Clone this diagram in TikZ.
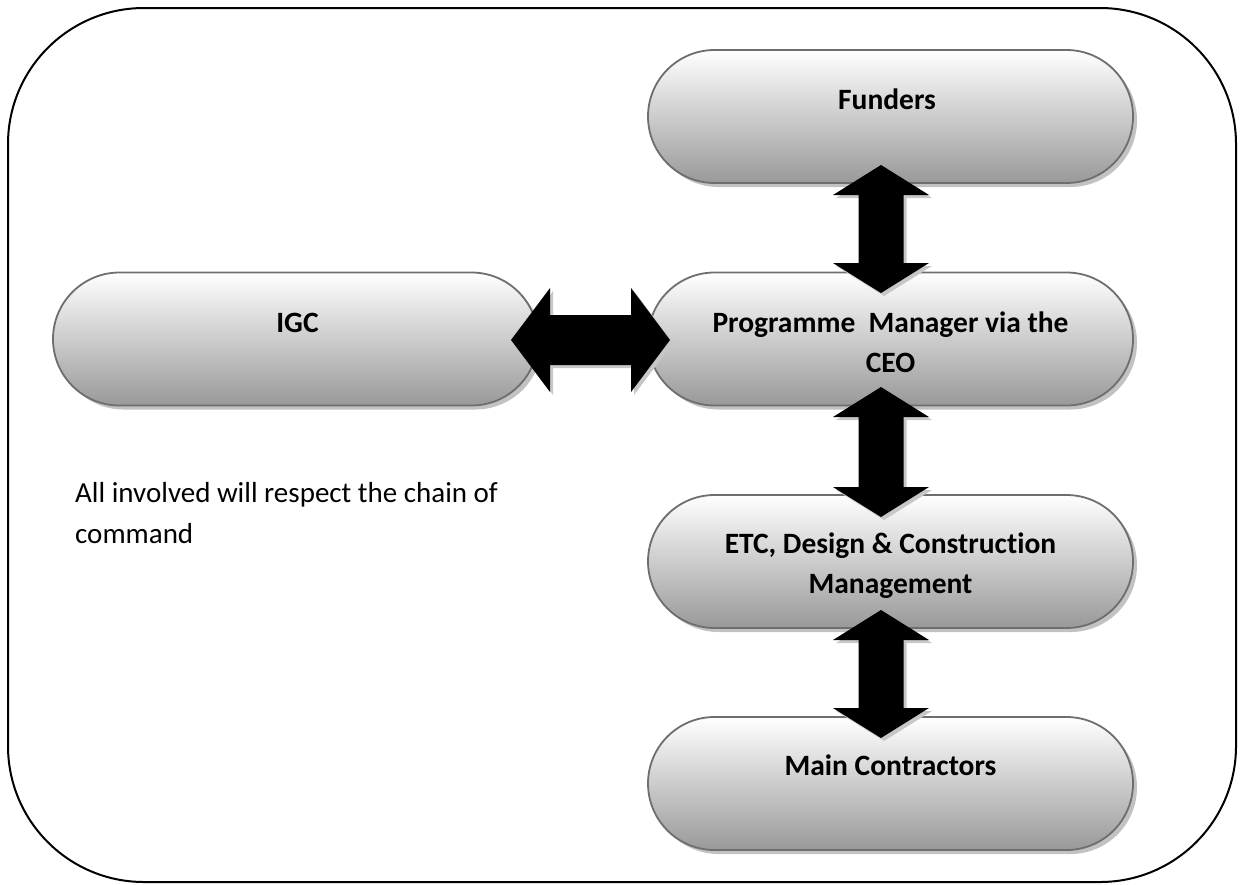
\documentclass[tikz,border=0pt]{standalone}
\usepackage{fontspec}
\setmainfont{Carlito}[Ligatures={NoCommon,NoContextual}]
\usetikzlibrary{shapes.misc,shadows,calc}
\tikzset{
  frame/.style={draw=black, line width=2pt, rounded corners=136pt},
  pill/.style={rounded rectangle, draw=black!57, line width=1.8pt,
    minimum width=485pt, minimum height=133pt, inner sep=0pt,
    top color=white, middle color=black!11, bottom color=black!40,
    drop shadow={shadow xshift=4pt, shadow yshift=-4pt, fill=black!24, opacity=1}},
  boxtext/.style={font=\bfseries\fontsize{29.5}{40}\selectfont, align=center, anchor=base, inner sep=0pt},
  bodytext/.style={font=\fontsize{29}{41}\selectfont, align=left, anchor=base west, inner sep=0pt},
  blockarrow/.style={fill=black,
    drop shadow={shadow xshift=3pt, shadow yshift=-3pt, fill=black!22, opacity=1}},
  vblock/.style={blockarrow, to path={let \p1=(\tikztostart), \p2=(\tikztotarget) in
    (\x1,\y1) -- (\x1+48pt,\y1-30pt) -- (\x1+22.5pt,\y1-30pt) -- (\x1+22.5pt,\y2+30pt)
    -- (\x1+48pt,\y2+30pt) -- (\x2,\y2) -- (\x1-48pt,\y2+30pt) -- (\x1-22.5pt,\y2+30pt)
    -- (\x1-22.5pt,\y1-30pt) -- (\x1-48pt,\y1-30pt) -- cycle}},
  hblock/.style={blockarrow, to path={let \p1=(\tikztostart), \p2=(\tikztotarget) in
    (\x1,\y1) -- (\x1+39pt,\y1+52pt) -- (\x1+39pt,\y1+25pt) -- (\x2-39pt,\y1+25pt)
    -- (\x2-39pt,\y1+52pt) -- (\x2,\y2) -- (\x2-39pt,\y1-52pt) -- (\x2-39pt,\y1-25pt)
    -- (\x1+39pt,\y1-25pt) -- (\x1+39pt,\y1-52pt) -- cycle}},
}
\begin{document}
\begin{tikzpicture}[x=1pt,y=-1pt]
\useasboundingbox (0,0) rectangle (1246,884);
\draw[frame] (8,8) rectangle (1236,882);

% boxes
\node[pill] (funders) at (890.5,116.5) {};
\node[pill] (prog)    at (890.5,339)   {};
\node[pill] (igc)     at (295.5,339)   {};
\node[pill] (etc)     at (890.5,561.5) {};
\node[pill] (main)    at (890.5,783.5) {};

% box texts (base anchor = baseline of the last line)
\node[boxtext] (funderst) at (887,109) {Funders};
\node[boxtext] (progt)    at (890.5,372) {Programme\ \ Manager via the\\CEO};
\node[boxtext] (igct)     at (297.5,332) {IGC};
\node[boxtext] (etct)     at (890.5,593) {ETC, Design \& Construction\\Management};
\node[boxtext] (maint)    at (890.5,775) {Main Contractors};

% arrow end points
\coordinate (fp1) at (881,165);
\coordinate (fp2) at (881,293);
\coordinate (pe1) at (881,387);
\coordinate (pe2) at (881,517);
\coordinate (em1) at (881,610);
\coordinate (em2) at (881,738);
\coordinate (ip1) at (511,340);
\coordinate (ip2) at (670,340);

\path[vblock] (fp1) to (fp2);
\path[vblock] (pe1) to (pe2);
\path[vblock] (em1) to (em2);
\path[hblock] (ip1) to (ip2);

% note
\node[bodytext] (note) at (75,543) {All involved will respect the chain of\\command};
\end{tikzpicture}
\end{document}
